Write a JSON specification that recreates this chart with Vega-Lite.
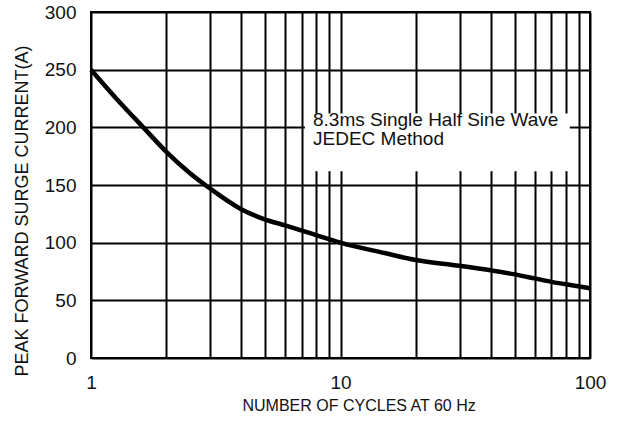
{
  "$schema": "https://vega.github.io/schema/vega-lite/v6.json",
  "width": 499,
  "height": 346,
  "autosize": "none",
  "padding": {"left": 91, "top": 12, "right": 29, "bottom": 63},
  "background": "white",
  "config": {
    "font": "Liberation Sans",
    "view": {"stroke": "black", "strokeWidth": 2},
    "axis": {
      "grid": true,
      "gridColor": "black",
      "gridWidth": 2,
      "gridOpacity": 1,
      "domain": false,
      "ticks": false,
      "labelColor": "#111",
      "titleColor": "#111",
      "labelFont": "Liberation Sans",
      "titleFont": "Liberation Sans",
      "titleFontWeight": "normal"
    }
  },
  "datasets": {
    "curve": [
      {"cycles": 1, "current": 250},
      {"cycles": 1.3, "current": 222},
      {"cycles": 1.62, "current": 200},
      {"cycles": 2, "current": 179},
      {"cycles": 2.5, "current": 160},
      {"cycles": 3, "current": 147},
      {"cycles": 4, "current": 129},
      {"cycles": 5, "current": 120},
      {"cycles": 6, "current": 115},
      {"cycles": 7, "current": 110.5},
      {"cycles": 8, "current": 106.5},
      {"cycles": 9, "current": 103},
      {"cycles": 10, "current": 100},
      {"cycles": 15, "current": 91},
      {"cycles": 20, "current": 85},
      {"cycles": 30, "current": 80},
      {"cycles": 40, "current": 76},
      {"cycles": 50, "current": 72.5},
      {"cycles": 60, "current": 69},
      {"cycles": 70, "current": 66},
      {"cycles": 80, "current": 64},
      {"cycles": 100, "current": 60.5}
    ],
    "note": [
      {"x": 7.2, "x2": 83, "y": 212, "y2": 162, "tx": 7.76, "ty": 213.9, "label": "8.3ms Single Half Sine Wave\nJEDEC Method"}
    ]
  },
  "layer": [
    {
      "data": {"name": "note"},
      "mark": {"type": "rect", "fill": "white", "stroke": null},
      "encoding": {
        "x": {"field": "x", "type": "quantitative", "scale": {"type": "log", "domain": [1, 100]},
          "axis": {
            "values": [1, 2, 3, 4, 5, 6, 7, 8, 9, 10, 20, 30, 40, 50, 60, 70, 80, 90, 100],
            "labelExpr": "datum.value == 1 || datum.value == 10 || datum.value == 100 ? format(datum.value, 'd') : ''",
            "labelFontSize": 19,
            "labelPadding": 15,
            "labelFlush": false,
            "labelOverlap": false,
            "title": "NUMBER OF CYCLES AT 60 Hz",
            "titleFontSize": 16,
            "titleAlign": "left",
            "titleAnchor": null,
            "titleX": 151,
            "titleBaseline": "alphabetic",
            "titleY": 52.7
          }
        },
        "x2": {"field": "x2"},
        "y": {"field": "y", "type": "quantitative", "scale": {"domain": [0, 300]},
          "axis": {
            "values": [0, 50, 100, 150, 200, 250, 300],
            "labelFontSize": 19,
            "labelPadding": 15,
            "title": "PEAK FORWARD SURGE CURRENT(A)",
            "titleFontSize": 18,
            "titleAngle": 270,
            "titleAlign": "left",
            "titleBaseline": "alphabetic",
            "titleX": -64,
            "titleY": 364
          }
        },
        "y2": {"field": "y2"}
      }
    },
    {
      "data": {"name": "note"},
      "mark": {"type": "text", "align": "left", "baseline": "top", "fontSize": 19, "lineBreak": "\n", "lineHeight": 19, "color": "#111"},
      "encoding": {
        "x": {"field": "tx", "type": "quantitative"},
        "y": {"field": "ty", "type": "quantitative"},
        "text": {"field": "label"}
      }
    },
    {
      "data": {"name": "curve"},
      "mark": {"type": "line", "color": "black", "strokeWidth": 4.5, "interpolate": "monotone"},
      "encoding": {
        "x": {"field": "cycles", "type": "quantitative"},
        "y": {"field": "current", "type": "quantitative"}
      }
    }
  ]
}
